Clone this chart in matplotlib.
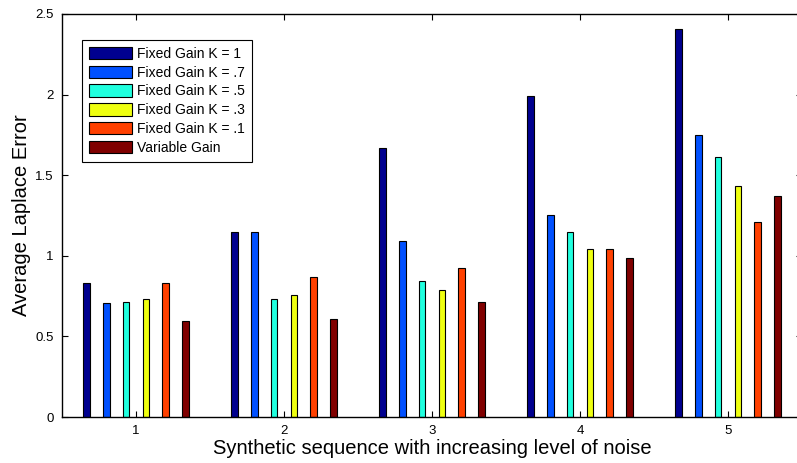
import matplotlib
matplotlib.use("Agg")
import matplotlib.pyplot as plt
import numpy as np

### Data

sequences = [1, 2, 3, 4, 5]
labels = ["Fixed Gain K = 1", "Fixed Gain K = .7", "Fixed Gain K = .5",
          "Fixed Gain K = .3", "Fixed Gain K = .1", "Variable Gain"]
gain_1 = [0.83, 1.15, 1.67, 1.99, 2.41]
gain_07 = [0.71, 1.15, 1.09, 1.255, 1.75]
gain_05 = [0.715, 0.73, 0.845, 1.15, 1.61]
gain_03 = [0.73, 0.755, 0.79, 1.045, 1.43]
gain_01 = [0.83, 0.87, 0.925, 1.04, 1.21]
variable_gain = [0.595, 0.61, 0.715, 0.985, 1.37]

series = [gain_1, gain_07, gain_05, gain_03, gain_01, variable_gain]
colors = ["#00008F", "#0050FF", "#20FFDF", "#EFFF10", "#FF4000", "#800000"]

### Plot

plt.rcParams['font.family'] = ['Liberation Sans', 'DejaVu Sans']

fig = plt.figure(figsize=(7.97, 4.63), dpi=100)
ax = fig.add_axes([62/797, 46/463, 740/797, 403/463])

x = np.array(sequences, dtype=float)
n = len(series)
step = 0.1333
width = 0.045
for i in range(n):
    offset = (i - (n - 1) / 2) * step
    ax.bar(x + offset, series[i], width=width, color=colors[i],
           edgecolor="black", linewidth=0.8, label=labels[i])

ax.set_xlim(0.5, 5.5)
ax.set_ylim(0, 2.5)
ax.set_xticks(sequences)
ax.set_yticks([0, 0.5, 1, 1.5, 2, 2.5])
ax.set_yticklabels(["0", "0.5", "1", "1.5", "2", "2.5"])
ax.tick_params(direction="in", top=True, right=True, length=4, width=0.8,
               labelsize=9.5, pad=6)
for s in ax.spines.values():
    s.set_linewidth(1.0)

ax.set_xlabel("Synthetic sequence with increasing level of noise", fontsize=14.5, labelpad=1)
ax.set_ylabel("Average Laplace Error", fontsize=14.5, labelpad=3)

leg = ax.legend(loc="upper left", bbox_to_anchor=(82/797, 1 - 40/463),
                bbox_transform=fig.transFigure, borderaxespad=0,
                fancybox=False, edgecolor="black", framealpha=1,
                fontsize=10, handlelength=3.1, handleheight=1.0,
                labelspacing=0.34, handletextpad=0.35, borderpad=0.5)
leg.get_frame().set_linewidth(0.8)

fig.savefig("out.png", dpi=100)
